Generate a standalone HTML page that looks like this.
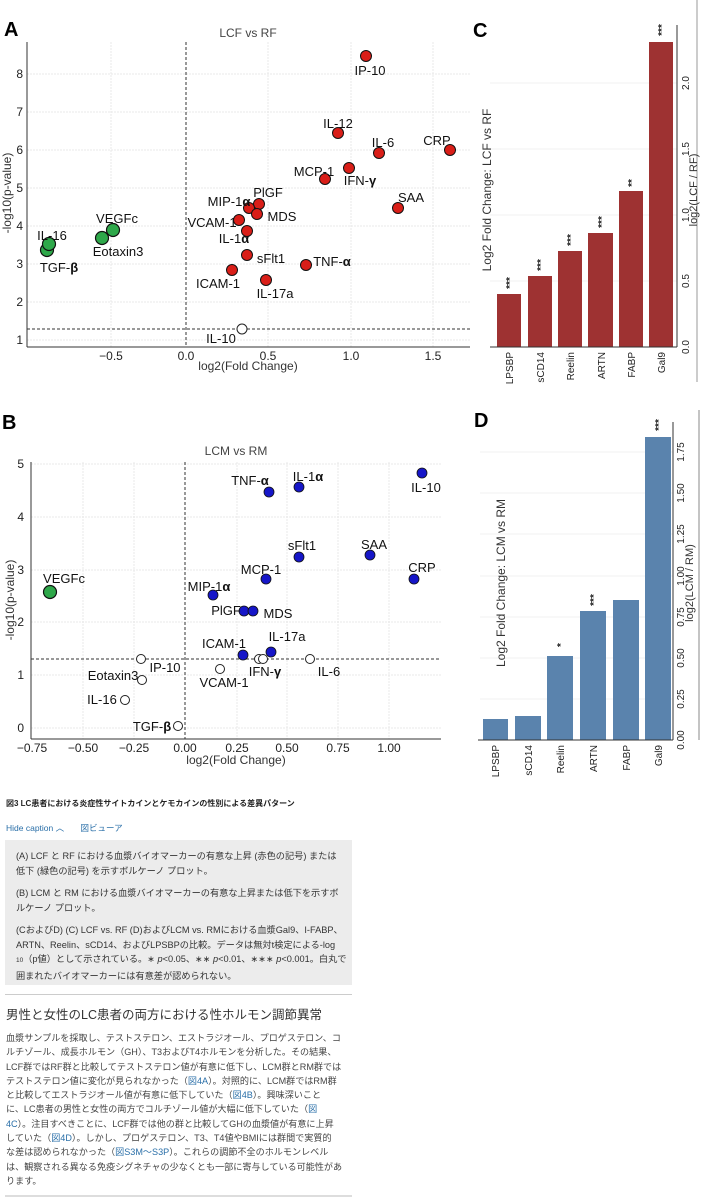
<!DOCTYPE html>
<html><head><meta charset="utf-8"><style>
body{margin:0;background:#fff;width:702px;height:1200px;overflow:hidden;position:relative;font-family:"Liberation Sans","Noto Sans CJK JP",sans-serif}
svg{position:absolute;left:0;top:0}
.t{font-family:"Liberation Sans","DejaVu Sans",sans-serif}
.cap{position:absolute;color:#333;white-space:nowrap}
</style></head><body>
<svg width="702" height="1200" class="t">
<defs>
<style>
.g{stroke:#e4e4e4;stroke-width:0.8;stroke-dasharray:2 1}
.lb{font-size:13px;fill:#111;text-anchor:middle}
.tk{font-size:12px;fill:#222;text-anchor:middle}
.r{fill:#d91e18;stroke:#111;stroke-width:1}
.gr{fill:#2ea84a;stroke:#111;stroke-width:1.2}
.b{fill:#1616c8;stroke:#111;stroke-width:0.8}
.o{fill:#fff;stroke:#222;stroke-width:1}
</style>
</defs>
<!-- Panel A -->
<text x="4" y="36" font-size="20" font-weight="bold">A</text>
<text x="248" y="37" font-size="12" fill="#444" text-anchor="middle">LCF vs RF</text>
<g>
<line class="g" x1="111" y1="42" x2="111" y2="347"/><line class="g" x1="268" y1="42" x2="268" y2="347"/><line class="g" x1="351" y1="42" x2="351" y2="347"/><line class="g" x1="433" y1="42" x2="433" y2="347"/>
<line class="g" x1="27" y1="74" x2="470" y2="74"/><line class="g" x1="27" y1="112" x2="470" y2="112"/><line class="g" x1="27" y1="150" x2="470" y2="150"/><line class="g" x1="27" y1="188" x2="470" y2="188"/><line class="g" x1="27" y1="226" x2="470" y2="226"/><line class="g" x1="27" y1="264" x2="470" y2="264"/><line class="g" x1="27" y1="302" x2="470" y2="302"/><line class="g" x1="27" y1="340" x2="470" y2="340"/>
</g>
<line x1="27" y1="42" x2="27" y2="347" stroke="#333" stroke-width="1"/>
<line x1="27" y1="347" x2="470" y2="347" stroke="#333" stroke-width="1"/>
<line x1="186" y1="42" x2="186" y2="347" stroke="#333" stroke-dasharray="3 2"/>
<line x1="27" y1="329" x2="470" y2="329" stroke="#333" stroke-dasharray="3 2"/>
<g class="tk"><text x="111" y="360">−0.5</text><text x="186" y="360">0.0</text><text x="268" y="360">0.5</text><text x="351" y="360">1.0</text><text x="433" y="360">1.5</text></g>
<g class="tk" text-anchor="end"><text x="23" y="78" text-anchor="end">8</text><text x="23" y="116" text-anchor="end">7</text><text x="23" y="154" text-anchor="end">6</text><text x="23" y="192" text-anchor="end">5</text><text x="23" y="230" text-anchor="end">4</text><text x="23" y="268" text-anchor="end">3</text><text x="23" y="306" text-anchor="end">2</text><text x="23" y="344" text-anchor="end">1</text></g>
<text x="248" y="370" font-size="12" fill="#333" text-anchor="middle">log2(Fold Change)</text>
<text transform="translate(11,193) rotate(-90)" font-size="12" fill="#333" text-anchor="middle">-log10(p-value)</text>
<g>
<circle class="r" cx="366" cy="56" r="5.5"/><circle class="r" cx="338" cy="133" r="5.5"/><circle class="r" cx="379" cy="153" r="5.5"/><circle class="r" cx="450" cy="150" r="5.5"/><circle class="r" cx="349" cy="168" r="5.5"/><circle class="r" cx="325" cy="179" r="5.5"/><circle class="r" cx="398" cy="208" r="5.5"/><circle class="r" cx="259" cy="204" r="5.5"/><circle class="r" cx="249" cy="208" r="5.5"/><circle class="r" cx="257" cy="214" r="5.5"/><circle class="r" cx="239" cy="220" r="5.5"/><circle class="r" cx="247" cy="231" r="5.5"/><circle class="r" cx="247" cy="255" r="5.5"/><circle class="r" cx="306" cy="265" r="5.5"/><circle class="r" cx="232" cy="270" r="5.5"/><circle class="r" cx="266" cy="280" r="5.5"/>
<circle class="o" cx="242" cy="329" r="5"/>
<circle class="gr" cx="113" cy="230" r="6.5"/><circle class="gr" cx="102" cy="238" r="6.5"/><circle class="gr" cx="47" cy="250" r="6.5"/><circle class="gr" cx="49" cy="244" r="6.5"/>
</g>
<g class="lb">
<text x="370" y="75">IP-10</text><text x="338" y="128">IL-12</text><text x="383" y="147">IL-6</text><text x="437" y="145">CRP</text><text x="314" y="176">MCP-1</text><text x="360" y="185">IFN-<tspan font-weight="bold">γ</tspan></text><text x="411" y="202">SAA</text><text x="268" y="197">PlGF</text><text x="229" y="206">MIP-1<tspan font-weight="bold">α</tspan></text><text x="282" y="221">MDS</text><text x="212" y="227">VCAM-1</text><text x="234" y="243">IL-1<tspan font-weight="bold">α</tspan></text><text x="271" y="263">sFlt1</text><text x="332" y="266">TNF-<tspan font-weight="bold">α</tspan></text><text x="218" y="288">ICAM-1</text><text x="275" y="298">IL-17a</text><text x="221" y="343">IL-10</text><text x="117" y="223">VEGFc</text><text x="118" y="256">Eotaxin3</text><text x="52" y="240">IL-16</text><text x="59" y="272">TGF-<tspan font-weight="bold">β</tspan></text>
</g>

<!-- Panel B -->
<text x="2" y="429" font-size="20" font-weight="bold">B</text>
<text x="236" y="455" font-size="12" fill="#444" text-anchor="middle">LCM vs RM</text>
<g>
<line class="g" x1="83" y1="462" x2="83" y2="739"/><line class="g" x1="134" y1="462" x2="134" y2="739"/><line class="g" x1="237" y1="462" x2="237" y2="739"/><line class="g" x1="287" y1="462" x2="287" y2="739"/><line class="g" x1="338" y1="462" x2="338" y2="739"/><line class="g" x1="389" y1="462" x2="389" y2="739"/>
<line class="g" x1="31" y1="464" x2="441" y2="464"/><line class="g" x1="31" y1="517" x2="441" y2="517"/><line class="g" x1="31" y1="570" x2="441" y2="570"/><line class="g" x1="31" y1="622" x2="441" y2="622"/><line class="g" x1="31" y1="675" x2="441" y2="675"/><line class="g" x1="31" y1="728" x2="441" y2="728"/>
</g>
<line x1="31" y1="462" x2="31" y2="739" stroke="#333"/>
<line x1="31" y1="739" x2="441" y2="739" stroke="#333"/>
<line x1="185" y1="462" x2="185" y2="739" stroke="#333" stroke-dasharray="3 2"/>
<line x1="31" y1="659" x2="441" y2="659" stroke="#333" stroke-dasharray="3 2"/>
<g class="tk"><text x="32" y="752">−0.75</text><text x="83" y="752">−0.50</text><text x="134" y="752">−0.25</text><text x="185" y="752">0.00</text><text x="237" y="752">0.25</text><text x="287" y="752">0.50</text><text x="338" y="752">0.75</text><text x="389" y="752">1.00</text></g>
<g class="tk"><text x="24" y="468" text-anchor="end">5</text><text x="24" y="521" text-anchor="end">4</text><text x="24" y="574" text-anchor="end">3</text><text x="24" y="626" text-anchor="end">2</text><text x="24" y="679" text-anchor="end">1</text><text x="24" y="732" text-anchor="end">0</text></g>
<text x="236" y="764" font-size="12" fill="#333" text-anchor="middle">log2(Fold Change)</text>
<text transform="translate(14,600) rotate(-90)" font-size="12" fill="#333" text-anchor="middle">-log10(p-value)</text>
<g>
<circle class="b" cx="422" cy="473" r="5"/><circle class="b" cx="299" cy="487" r="5"/><circle class="b" cx="269" cy="492" r="5"/><circle class="b" cx="370" cy="555" r="5"/><circle class="b" cx="299" cy="557" r="5"/><circle class="b" cx="414" cy="579" r="5"/><circle class="b" cx="266" cy="579" r="5"/><circle class="b" cx="213" cy="595" r="5"/><circle class="b" cx="244" cy="611" r="5"/><circle class="b" cx="253" cy="611" r="5"/><circle class="b" cx="243" cy="655" r="5"/><circle class="b" cx="271" cy="652" r="5"/>
<circle class="gr" cx="50" cy="592" r="6.5"/>
<circle class="o" cx="141" cy="659" r="4.5"/><circle class="o" cx="142" cy="680" r="4.5"/><circle class="o" cx="125" cy="700" r="4.5"/><circle class="o" cx="178" cy="726" r="4.5"/><circle class="o" cx="220" cy="669" r="4.5"/><circle class="o" cx="259" cy="659" r="4.5"/><circle class="o" cx="263" cy="659" r="4.5"/><circle class="o" cx="310" cy="659" r="4.5"/>
</g>
<g class="lb">
<text x="250" y="485">TNF-<tspan font-weight="bold">α</tspan></text><text x="308" y="481">IL-1<tspan font-weight="bold">α</tspan></text><text x="426" y="492">IL-10</text><text x="374" y="549">SAA</text><text x="302" y="550">sFlt1</text><text x="422" y="572">CRP</text><text x="261" y="574">MCP-1</text><text x="209" y="591">MIP-1<tspan font-weight="bold">α</tspan></text><text x="226" y="615">PlGF</text><text x="278" y="618">MDS</text><text x="224" y="648">ICAM-1</text><text x="287" y="641">IL-17a</text><text x="64" y="583">VEGFc</text><text x="165" y="672">IP-10</text><text x="113" y="680">Eotaxin3</text><text x="102" y="704">IL-16</text><text x="152" y="731">TGF-<tspan font-weight="bold">β</tspan></text><text x="224" y="687">VCAM-1</text><text x="265" y="676">IFN-<tspan font-weight="bold">γ</tspan></text><text x="329" y="676">IL-6</text>
</g>

<!-- Panel C -->
<text x="473" y="37" font-size="20" font-weight="bold">C</text>
<g stroke="#ececec" stroke-width="0.8"><line x1="490" y1="281" x2="677" y2="281"/><line x1="490" y1="215" x2="677" y2="215"/><line x1="490" y1="149" x2="677" y2="149"/><line x1="490" y1="83" x2="677" y2="83"/></g>
<g fill="#9e3232">
<rect x="497" y="294" width="24" height="53"/><rect x="528" y="276" width="24" height="71"/><rect x="558" y="251" width="24" height="96"/><rect x="588" y="233" width="25" height="114"/><rect x="619" y="191" width="24" height="156"/><rect x="649" y="42" width="24" height="305"/>
</g>
<line x1="490" y1="347" x2="677" y2="347" stroke="#333"/>
<line x1="677" y1="25" x2="677" y2="347" stroke="#333"/>
<line x1="697" y1="0" x2="697" y2="382" stroke="#999"/>
<g font-size="10" fill="#222" text-anchor="middle">
<text transform="translate(689,347) rotate(-90)">0.0</text><text transform="translate(689,281) rotate(-90)">0.5</text><text transform="translate(689,215) rotate(-90)">1.0</text><text transform="translate(689,149) rotate(-90)">1.5</text><text transform="translate(689,83) rotate(-90)">2.0</text>
</g>
<text transform="translate(697,190) rotate(-90)" font-size="11" fill="#333" text-anchor="middle">log2(LCF / RF)</text>
<text transform="translate(491,190) rotate(-90)" font-size="12" fill="#333" text-anchor="middle">Log2 Fold Change: LCF vs RF</text>
<g font-size="10" fill="#222" text-anchor="end">
<text transform="translate(513,352) rotate(-90)">LPSBP</text><text transform="translate(544,352) rotate(-90)">sCD14</text><text transform="translate(574,352) rotate(-90)">Reelin</text><text transform="translate(605,352) rotate(-90)">ARTN</text><text transform="translate(635,352) rotate(-90)">FABP</text><text transform="translate(665,352) rotate(-90)">Gal9</text>
</g>
<g font-size="10" font-weight="bold" fill="#222" text-anchor="middle">
<text transform="translate(513,283) rotate(-90)">***</text><text transform="translate(544,265) rotate(-90)">***</text><text transform="translate(574,240) rotate(-90)">***</text><text transform="translate(605,222) rotate(-90)">***</text><text transform="translate(635,183) rotate(-90)">**</text><text transform="translate(665,30) rotate(-90)">***</text>
</g>

<!-- Panel D -->
<text x="474" y="427" font-size="20" font-weight="bold">D</text>
<g stroke="#ececec" stroke-width="0.8"><line x1="480" y1="699" x2="673" y2="699"/><line x1="480" y1="658" x2="673" y2="658"/><line x1="480" y1="617" x2="673" y2="617"/><line x1="480" y1="576" x2="673" y2="576"/><line x1="480" y1="534" x2="673" y2="534"/><line x1="480" y1="493" x2="673" y2="493"/><line x1="480" y1="452" x2="673" y2="452"/></g>
<g fill="#5a83ad">
<rect x="483" y="719" width="25" height="21"/><rect x="515" y="716" width="26" height="24"/><rect x="547" y="656" width="26" height="84"/><rect x="580" y="611" width="26" height="129"/><rect x="613" y="600" width="26" height="140"/><rect x="645" y="437" width="26" height="303"/>
</g>
<line x1="478" y1="740" x2="673" y2="740" stroke="#333"/>
<line x1="673" y1="422" x2="673" y2="740" stroke="#333"/>
<line x1="699" y1="410" x2="699" y2="740" stroke="#888"/>
<g font-size="10" fill="#222" text-anchor="middle">
<text transform="translate(684,740) rotate(-90)">0.00</text><text transform="translate(684,699) rotate(-90)">0.25</text><text transform="translate(684,658) rotate(-90)">0.50</text><text transform="translate(684,617) rotate(-90)">0.75</text><text transform="translate(684,576) rotate(-90)">1.00</text><text transform="translate(684,534) rotate(-90)">1.25</text><text transform="translate(684,493) rotate(-90)">1.50</text><text transform="translate(684,452) rotate(-90)">1.75</text>
</g>
<text transform="translate(693,583) rotate(-90)" font-size="11" fill="#333" text-anchor="middle">log2(LCM / RM)</text>
<text transform="translate(505,583) rotate(-90)" font-size="12" fill="#333" text-anchor="middle">Log2 Fold Change: LCM vs RM</text>
<g font-size="10" fill="#222" text-anchor="end">
<text transform="translate(499,745) rotate(-90)">LPSBP</text><text transform="translate(532,745) rotate(-90)">sCD14</text><text transform="translate(564,745) rotate(-90)">Reelin</text><text transform="translate(597,745) rotate(-90)">ARTN</text><text transform="translate(630,745) rotate(-90)">FABP</text><text transform="translate(662,745) rotate(-90)">Gal9</text>
</g>
<g font-size="10" font-weight="bold" fill="#222" text-anchor="middle">
<text transform="translate(564,645) rotate(-90)">*</text><text transform="translate(597,600) rotate(-90)">***</text><text transform="translate(662,425) rotate(-90)">***</text>
</g>
</svg>

<div class="cap" style="left:6px;top:798px;font-size:8px;font-weight:bold;color:#222">図3 LC患者における炎症性サイトカインとケモカインの性別による差異パターン</div>
<div class="cap" style="left:6px;top:822px;font-size:8.5px;color:#2a6fa8">Hide caption ︿ <span style="margin-left:14px">図ビューア</span></div>
<div class="cap" style="left:5px;top:840px;width:324px;height:145px;background:#ececec;padding:0 12px 0 11px;font-size:9.2px;line-height:14.5px;color:#333">
<div style="margin-top:9px">(A) LCF と RF における血漿バイオマーカーの有意な上昇 (赤色の記号) または<br>低下 (緑色の記号) を示すボルケーノ プロット。</div>
<div style="margin-top:8px">(B) LCM と RM における血漿バイオマーカーの有意な上昇または低下を示すボ<br>ルケーノ プロット。</div>
<div style="margin-top:8px">(CおよびD) (C) LCF vs. RF (D)およびLCM vs. RMにおける血漿Gal9、I-FABP、<br>ARTN、Reelin、sCD14、およびLPSBPの比較。データは無対t検定による-log<br><span style="font-size:6.5px">10</span>（p値）として示されている。∗ <i>p</i>&lt;0.05、∗∗ <i>p</i>&lt;0.01、∗∗∗ <i>p</i>&lt;0.001。白丸で<br>囲まれたバイオマーカーには有意差が認められない。</div>
</div>
<div style="position:absolute;left:5px;top:994px;width:347px;height:1px;background:#ccc"></div>
<div class="cap" style="left:6px;top:1004px;font-size:12.5px;color:#333">男性と女性のLC患者の両方における性ホルモン調節異常</div>
<div class="cap" style="left:6px;top:1031px;width:350px;font-size:9.1px;line-height:14.3px;color:#444">血漿サンプルを採取し、テストステロン、エストラジオール、プロゲステロン、コ<br>ルチゾール、成長ホルモン（GH）、T3およびT4ホルモンを分析した。その結果、<br>LCF群ではRF群と比較してテストステロン値が有意に低下し、LCM群とRM群では<br>テストステロン値に変化が見られなかった（<span style="color:#2a6fa8">図4A</span>）。対照的に、LCM群ではRM群<br>と比較してエストラジオール値が有意に低下していた（<span style="color:#2a6fa8">図4B</span>）。興味深いこと<br>に、LC患者の男性と女性の両方でコルチゾール値が大幅に低下していた（<span style="color:#2a6fa8">図</span><br><span style="color:#2a6fa8">4C</span>）。注目すべきことに、LCF群では他の群と比較してGHの血漿値が有意に上昇<br>していた（<span style="color:#2a6fa8">図4D</span>）。しかし、プロゲステロン、T3、T4値やBMIには群間で実質的<br>な差は認められなかった（<span style="color:#2a6fa8">図S3M〜S3P</span>）。これらの調節不全のホルモンレベル<br>は、観察される異なる免疫シグネチャの少なくとも一部に寄与している可能性があ<br>ります。</div>
<div style="position:absolute;left:5px;top:1195px;width:347px;height:2px;background:#ddd"></div>
</body></html>
